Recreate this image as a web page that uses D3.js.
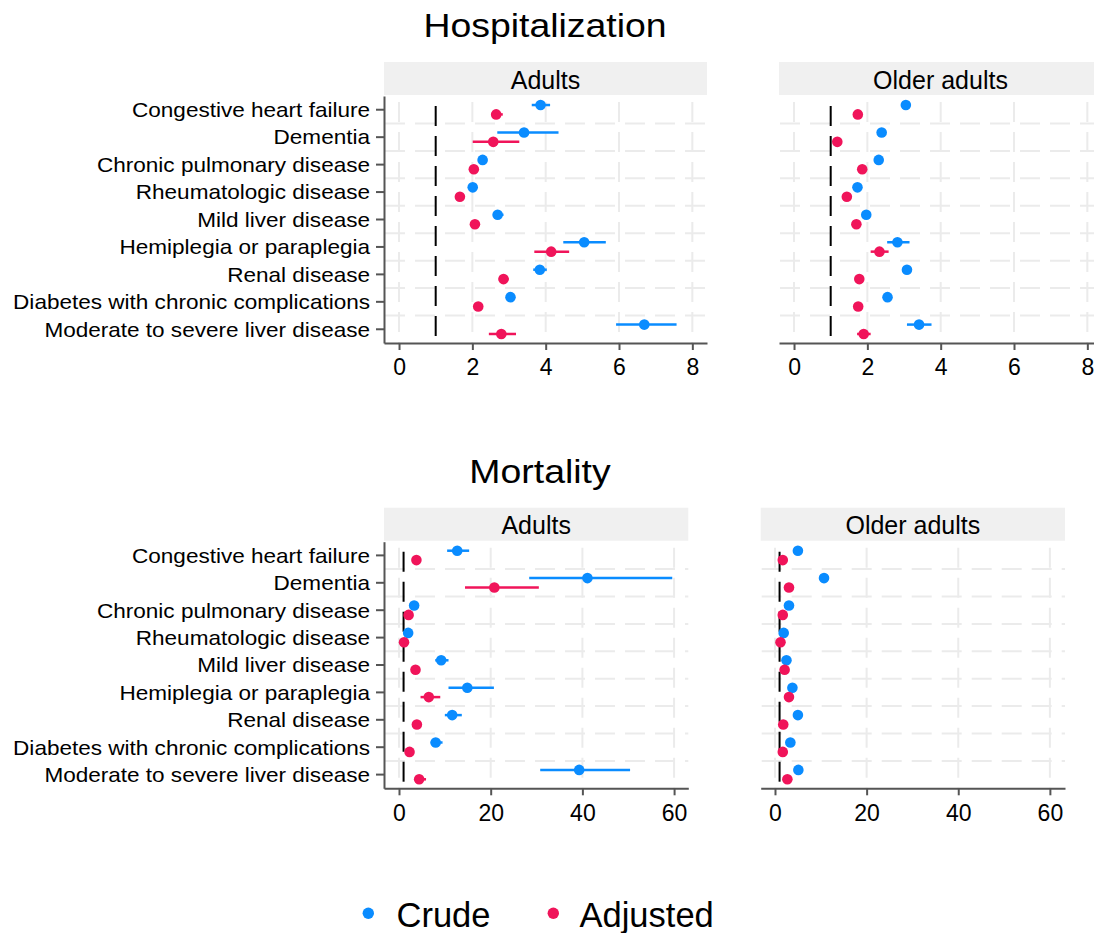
<!DOCTYPE html>
<html>
<head>
<meta charset="utf-8">
<script src="https://cdn.jsdelivr.net/npm/d3@7"></script>
<style>
  html, body { margin: 0; padding: 0; background: #fff; }
  svg { display: block; font-family: "Liberation Sans", Arial, sans-serif; }
</style>
</head>
<body>
<svg id="chart" width="1094" height="933"></svg>
<script>
// ---------------- DATA ----------------
const categories = [
  "Congestive heart failure",
  "Dementia",
  "Chronic pulmonary disease",
  "Rheumatologic disease",
  "Mild liver disease",
  "Hemiplegia or paraplegia",
  "Renal disease",
  "Diabetes with chronic complications",
  "Moderate to severe liver disease"
];
const seriesNames = ["Crude", "Adjusted"];
const panelTitles = ["Adults", "Older adults"];
const sectionTitles = ["Hospitalization", "Mortality"];

// [estimate, lower CI, upper CI]
const hospAdultsCrude = [[3.86,3.62,4.12],[3.41,2.68,4.35],[2.28,2.18,2.38],[2.01,1.92,2.10],[2.69,2.56,2.85],[5.05,4.48,5.64],[3.84,3.66,4.03],[3.04,2.92,3.16],[6.69,5.92,7.57]];
const hospAdultsAdj   = [[2.65,2.51,2.83],[2.57,2.01,3.28],[2.04,1.95,2.13],[1.66,1.58,1.75],[2.07,1.96,2.19],[4.15,3.69,4.64],[2.85,2.72,2.99],[2.16,2.07,2.25],[2.79,2.45,3.19]];
const hospOlderCrude  = [[3.05,2.96,3.14],[2.39,2.28,2.50],[2.31,2.23,2.39],[1.73,1.65,1.81],[1.97,1.86,2.08],[2.82,2.54,3.15],[3.08,2.97,3.19],[2.55,2.45,2.65],[3.41,3.08,3.75]];
const hospOlderAdj    = [[1.74,1.68,1.80],[1.18,1.12,1.24],[1.86,1.79,1.93],[1.44,1.38,1.50],[1.70,1.61,1.79],[2.33,2.09,2.58],[1.78,1.71,1.85],[1.75,1.68,1.82],[1.90,1.72,2.09]];
const mortAdultsCrude = [[12.7,10.5,15.3],[41.1,28.4,59.6],[3.3,2.9,3.7],[2.0,1.7,2.3],[9.2,7.9,10.8],[14.9,10.8,20.7],[11.6,10.0,13.7],[8.0,6.9,9.5],[39.3,30.8,50.4]];
const mortAdultsAdj   = [[3.8,3.3,4.4],[20.8,14.4,30.5],[2.1,1.8,2.4],[1.1,0.9,1.3],[3.6,3.1,4.2],[6.5,4.7,9.0],[3.9,3.4,4.5],[2.3,2.0,2.7],[4.4,3.5,5.9]];
const mortOlderCrude  = [[5.0,4.6,5.4],[10.7,9.8,11.7],[3.05,2.8,3.3],[1.9,1.7,2.1],[2.5,2.2,2.8],[3.8,3.3,4.3],[5.0,4.6,5.4],[3.35,3.1,3.6],[5.1,4.6,5.6]];
const mortOlderAdj    = [[1.7,1.6,1.8],[3.05,2.8,3.3],[1.7,1.6,1.8],[1.2,1.1,1.3],[2.1,1.9,2.3],[3.05,2.7,3.4],[1.8,1.7,1.9],[1.7,1.6,1.8],[2.7,2.4,3.0]];

const hospTicks = [0, 2, 4, 6, 8];
const mortTicks = [0, 20, 40, 60];
const refValue = 1;

// ---------------- STYLE / LAYOUT ----------------
const colCrude = "#0a8cff";
const colAdj = "#f0145a";
const svg = d3.select("#chart");

const panels = [
  { title: panelTitles[0], crude: hospAdultsCrude, adj: hospAdultsAdj, ticks: hospTicks,
    domain: [-0.41, 8.4], range: [384, 707], top: 96, bottom: 343, stripTop: 62, yAxis: true },
  { title: panelTitles[1], crude: hospOlderCrude, adj: hospOlderAdj, ticks: hospTicks,
    domain: [-0.41, 8.4], range: [779, 1102], top: 96, bottom: 343, stripTop: 62, yAxis: false },
  { title: panelTitles[0], crude: mortAdultsCrude, adj: mortAdultsAdj, ticks: mortTicks,
    domain: [-3.27, 63.1], range: [384, 688.3], top: 541.7, bottom: 788.3, stripTop: 507.7, yAxis: true },
  { title: panelTitles[1], crude: mortOlderCrude, adj: mortOlderAdj, ticks: mortTicks,
    domain: [-3.12, 63.3], range: [760.7, 1065], top: 541.7, bottom: 788.3, stripTop: 507.7, yAxis: false }
];

function stretchedText(g, x, y, txt, size, sx, anchor) {
  return g.append("text")
    .attr("transform", `translate(${x},${y}) scale(${sx},1)`)
    .attr("text-anchor", anchor)
    .attr("font-size", size)
    .attr("fill", "#000")
    .text(txt);
}

// Section titles
stretchedText(svg, 545, 37, sectionTitles[0], 34, 1.1, "middle");
stretchedText(svg, 540, 483, sectionTitles[1], 34, 1.1, "middle");

const dodge = 4.7;
const r = 5.3;

panels.forEach(p => {
  const g = svg.append("g");
  const x = d3.scaleLinear().domain(p.domain).range(p.range);
  const y = d3.scaleBand().domain(categories).range([p.top, p.bottom]).padding(0);
  const bw = y.bandwidth();
  const cy = c => y(c) + bw / 2;

  // strip
  g.append("rect")
    .attr("x", p.range[0]).attr("y", p.stripTop)
    .attr("width", p.range[1] - p.range[0]).attr("height", p.top - 1 - p.stripTop)
    .attr("fill", "#f0f0f0");
  g.append("text")
    .attr("x", (p.range[0] + p.range[1]) / 2)
    .attr("y", p.top - 7.5)
    .attr("text-anchor", "middle")
    .attr("font-size", 25)
    .text(p.title);

  // grid: vertical at ticks
  g.selectAll(".vg").data(p.ticks).join("line")
    .attr("x1", d => x(d)).attr("x2", d => x(d))
    .attr("y1", p.top).attr("y2", p.bottom)
    .attr("stroke", "#ebebeb").attr("stroke-width", 2)
    .attr("stroke-dasharray", "20,10").attr("stroke-dashoffset", 24);
  // grid: horizontal at category boundaries
  g.selectAll(".hg").data(categories.slice(1)).join("line")
    .attr("x1", p.range[0]).attr("x2", p.range[1])
    .attr("y1", d => y(d)).attr("y2", d => y(d))
    .attr("stroke", "#ebebeb").attr("stroke-width", 2)
    .attr("stroke-dasharray", "20,10").attr("stroke-dashoffset", -1);

  // reference line
  g.append("line")
    .attr("x1", x(refValue)).attr("x2", x(refValue))
    .attr("y1", p.top).attr("y2", p.bottom)
    .attr("stroke", "#000").attr("stroke-width", 2)
    .attr("stroke-dasharray", "20,10").attr("stroke-dashoffset", 20);

  // x axis
  const xAxis = d3.axisBottom(x).tickValues(p.ticks).tickSize(7).tickPadding(9).tickSizeOuter(0);
  const xa = g.append("g").attr("transform", `translate(0,${p.bottom})`).call(xAxis);
  xa.select(".domain").attr("stroke", "#555").attr("stroke-width", 2);
  xa.selectAll(".tick line").attr("stroke", "#555").attr("stroke-width", 2);
  xa.selectAll(".tick text").attr("font-size", 23).attr("fill", "#000")
    .attr("font-family", "'Liberation Sans', Arial, sans-serif");

  // y axis
  if (p.yAxis) {
    const yAxis = d3.axisLeft(y).tickSize(8).tickPadding(0).tickSizeOuter(0).tickFormat("");
    const ya = g.append("g").attr("transform", `translate(${p.range[0]},0)`).call(yAxis);
    ya.select(".domain").attr("stroke", "#555").attr("stroke-width", 2);
    ya.selectAll(".tick line").attr("stroke", "#555").attr("stroke-width", 2);
    categories.forEach(c => {
      stretchedText(g, p.range[0] - 14, cy(c) + 7.3, c, 20.5, 1.1, "end");
    });
  }

  // series
  const series = [
    { data: p.crude, color: colCrude, off: -dodge },
    { data: p.adj, color: colAdj, off: dodge }
  ];
  series.forEach(s => {
    g.selectAll(null).data(s.data).join("line")
      .attr("x1", d => x(d[1])).attr("x2", d => x(d[2]))
      .attr("y1", (d, i) => cy(categories[i]) + s.off)
      .attr("y2", (d, i) => cy(categories[i]) + s.off)
      .attr("stroke", s.color).attr("stroke-width", 2.5);
    g.selectAll(null).data(s.data).join("circle")
      .attr("cx", d => x(d[0]))
      .attr("cy", (d, i) => cy(categories[i]) + s.off)
      .attr("r", r)
      .attr("fill", s.color);
  });
});

// legend
const lg = svg.append("g");
lg.append("circle").attr("cx", 368.3).attr("cy", 913.3).attr("r", 5.7).attr("fill", colCrude);
lg.append("text").attr("x", 396.5).attr("y", 926.7).attr("font-size", 34.5).text(seriesNames[0]);
lg.append("circle").attr("cx", 553.3).attr("cy", 913.3).attr("r", 5.7).attr("fill", colAdj);
lg.append("text").attr("x", 579.5).attr("y", 926.7).attr("font-size", 34.5).text(seriesNames[1]);
</script>
</body>
</html>
